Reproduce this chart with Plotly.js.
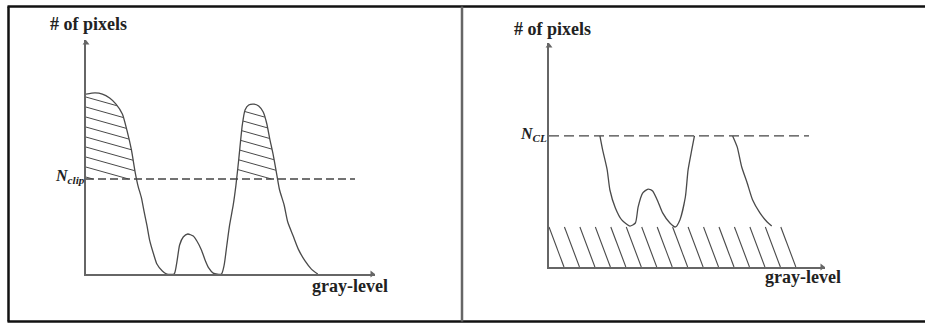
<!DOCTYPE html>
<html><head><meta charset="utf-8">
<script src="https://cdn.plot.ly/plotly-3.0.1.min.js"></script>
<style>html,body{margin:0;padding:0;background:#fff;}#chart{width:925px;height:323px;}</style>
</head><body><div id="chart"></div>
<script>
// ---------- DATA ----------
// Left panel: original histogram (gray-level vs # of pixels, arbitrary units)
const grayOrig  = [0,10,18,26,33,40,45,50,54,57,61,64,67,70,74,78,84,89,97,100,103,107,112,118,122,127,131,135,140,149,152,155,158,162,165,168,172,175,179,185,190,195,199,202,206,210,213,218,222,228,234,241,248,255];
const countOrig = [76.9,77.4,76.9,75.2,72.6,68.4,61.5,53.0,43.6,38.0,32.5,26.5,20.9,14.5,9.0,4.3,1.3,0,0,5.1,12.4,15.8,17.1,16.2,14.1,10.3,6.0,2.6,0.4,0,3.8,12.4,20.9,29.5,38.0,48.7,63.7,70.1,72.2,72.6,71.8,69.2,64.1,58.1,50.9,42.3,35.9,29.5,22.2,16.2,10.3,5.6,2.1,0];
const clipLimit = 40.6;

// Right panel: clipped histogram, visible parts below the clip limit
const grayClipA  = [56,59,64,67,73,80,89,95,98,103,109,114,120,125,133,139,144,150,153,157,160];
const countClipA = [56.0,50.0,41.5,32.9,25.2,20.1,17.5,18.8,25.6,31.6,33.3,32.5,27.8,23.1,18.8,17.1,20.1,29.9,41.5,50.0,56.0];
const grayClipB  = [202,207,212,218,224,232,240,245];
const countClipB = [56.0,51.3,42.7,35.9,28.6,23.1,19.2,17.5];
const clipLimitCL = 56.0;
const redistLevel = 17.1;      // excess redistributed over all bins
const grayMax = 255;

const yLabel = '# of pixels';
const xLabel = 'gray-level';
const clipLabel = '<i>N<sub>clip</sub></i>';
const clLabel = '<i>N<sub>CL</sub></i>';

// ---------- GEOMETRY / STYLE ----------
const W = 925, H = 323;
const PL = {ox:86, oy:274, xTip:375, yTip:40, xMax:318, yMax:100, dashEnd:296};
const PR = {ox:549, oy:267, xTip:825, yTip:43, xMax:303.6, yMax:95.7, dashEnd:286};
const ink = '#4a4a4a', axisCol = '#666', txtCol = '#222';
const serif = 'Liberation Serif, Times New Roman, serif';

function dom(p){ return {x:[p.ox/W, p.xTip/W], y:[1-p.oy/H, 1-p.yTip/H]}; }
const dL = dom(PL), dR = dom(PR);
const xppu = (PL.xTip-PL.ox)/PL.xMax, yppu = (PL.oy-PL.yTip)/PL.yMax;

function interp(xs, ys, x){
  for(let i=0;i<xs.length-1;i++){
    if(x>=xs[i] && x<=xs[i+1]){ const t=(x-xs[i])/(xs[i+1]-xs[i]); return ys[i]+t*(ys[i+1]-ys[i]); }
  }
  return 0;
}

// Left hatch: shallow lines above clip limit inside the histogram
const hatchSlopePx = 0.28, hatchGapPx = 10, hatchAnchor = 45.7;
const m = -hatchSlopePx * xppu / yppu;
const dc = hatchGapPx / yppu;
const hLx = [], hLy = [];
const step = 0.2;
for(let k=-25;k<=25;k++){
  const c = hatchAnchor + k*dc;
  let inSeg = false, lastX = 0;
  for(let x=0; x<=grayMax+1e-9; x+=step){
    const h = c + m*x;
    const ok = h>=clipLimit && h<=interp(grayOrig,countOrig,x);
    if(ok && !inSeg){ hLx.push(x); hLy.push(h); inSeg = true; }
    else if(!ok && inSeg){ hLx.push(lastX); hLy.push(c+m*lastX); hLx.push(null); hLy.push(null); inSeg=false; }
    lastX = x;
  }
  if(inSeg){ hLx.push(lastX); hLy.push(c+m*lastX); hLx.push(null); hLy.push(null); }
}

// Right hatch: steep lines in the redistributed band
const nHatchR = 15, hatchShiftPx = 15;
const shiftR = hatchShiftPx / xppu;
const hRx = [], hRy = [];
for(let k=0;k<=nHatchR;k++){
  const g = k*grayMax/nHatchR;
  hRx.push(g, g+shiftR, null); hRy.push(redistLevel, 0, null);
}

// arrowhead markers at the axis ends (marker centre sits a few px behind the tip)
const headR = 3;
function heads(p, xa, ya){
  return [
    {x:[0], y:[p.yMax - headR/yppu], xaxis:xa, yaxis:ya, mode:'markers', cliponaxis:false, hoverinfo:'skip',
     marker:{symbol:'triangle-up', size:headR*2, color:axisCol}},
    {x:[p.xMax - headR/xppu], y:[0], xaxis:xa, yaxis:ya, mode:'markers', cliponaxis:false, hoverinfo:'skip',
     marker:{symbol:'triangle-right', size:headR*2, color:axisCol}}
  ];
}

const traces = [
  {x:hLx, y:hLy, xaxis:'x', yaxis:'y', mode:'lines', line:{color:ink, width:1}, hoverinfo:'skip'},
  {x:grayOrig, y:countOrig, xaxis:'x', yaxis:'y', mode:'lines', line:{color:ink, width:1.3, shape:'spline', smoothing:0.6}},
  {x:[0, PL.dashEnd], y:[clipLimit, clipLimit], xaxis:'x', yaxis:'y', mode:'lines', line:{color:'#444', width:1.4, dash:'8px,4px'}},
  {x:hRx, y:hRy, xaxis:'x2', yaxis:'y2', mode:'lines', line:{color:ink, width:1.1}, hoverinfo:'skip'},
  {x:grayClipA, y:countClipA, xaxis:'x2', yaxis:'y2', mode:'lines', line:{color:ink, width:1.3, shape:'spline', smoothing:0.6}},
  {x:grayClipB, y:countClipB, xaxis:'x2', yaxis:'y2', mode:'lines', line:{color:ink, width:1.3, shape:'spline', smoothing:0.6}},
  {x:[0, PR.dashEnd], y:[clipLimitCL, clipLimitCL], xaxis:'x2', yaxis:'y2', mode:'lines', line:{color:'#444', width:1.4, dash:'10px,5px'}}
].concat(heads(PL,'x','y'), heads(PR,'x2','y2'));

function ax(domain, range){
  return {domain:domain, range:range, showgrid:false, zeroline:false, showticklabels:false, ticks:'',
          showline:true, linecolor:axisCol, linewidth:1.6, fixedrange:true};
}

function P(px){ return px/W; }
function Q(py){ return 1-py/H; }
const tfont = {family:serif, size:18, color:txtCol, weight:'bold'};
const nfont = {family:serif, size:16, color:txtCol, weight:'bold'};

const annotations = [
  {xref:'paper', yref:'paper', x:P(88.5), y:Q(24.5), text:yLabel, showarrow:false, font:tfont, xanchor:'center', yanchor:'middle'},
  {xref:'paper', yref:'paper', x:P(552), y:Q(28.5), text:yLabel, showarrow:false, font:tfont, xanchor:'center', yanchor:'middle'},
  {xref:'paper', yref:'paper', x:P(349.5), y:Q(285.5), text:xLabel, showarrow:false, font:tfont, xanchor:'center', yanchor:'middle'},
  {xref:'paper', yref:'paper', x:P(802.5), y:Q(276.5), text:xLabel, showarrow:false, font:tfont, xanchor:'center', yanchor:'middle'},
  {xref:'paper', yref:'paper', x:P(87), y:Q(176), text:clipLabel, showarrow:false, font:nfont, xanchor:'right', yanchor:'middle'},
  {xref:'paper', yref:'paper', x:P(549), y:Q(134), text:clLabel, showarrow:false, font:nfont, xanchor:'right', yanchor:'middle'}
];

const shapes = [
  {type:'line', xref:'paper', yref:'paper', x0:P(7.5), x1:1, y0:Q(6.5), y1:Q(6.5), line:{color:'#111', width:2.5}},
  {type:'line', xref:'paper', yref:'paper', x0:P(7.5), x1:1, y0:Q(321.5), y1:Q(321.5), line:{color:'#111', width:2.5}},
  {type:'line', xref:'paper', yref:'paper', x0:P(8.5), x1:P(8.5), y0:Q(6.5), y1:Q(321.5), line:{color:'#111', width:2.5}},
  {type:'line', xref:'paper', yref:'paper', x0:P(462), x1:P(462), y0:Q(6.5), y1:Q(321.5), line:{color:'#666', width:2.5}}
];

const layout = {
  width:W, height:H, margin:{l:0,r:0,t:0,b:0}, showlegend:false,
  paper_bgcolor:'#fff', plot_bgcolor:'rgba(0,0,0,0)',
  xaxis: ax(dL.x, [0, PL.xMax]), yaxis: ax(dL.y, [0, PL.yMax]),
  xaxis2: ax(dR.x, [0, PR.xMax]), yaxis2: ax(dR.y, [0, PR.yMax]),
  annotations: annotations, shapes: shapes
};
layout.yaxis.anchor = 'x'; layout.xaxis.anchor = 'y';
layout.xaxis2.anchor = 'y2'; layout.yaxis2.anchor = 'x2';

Plotly.newPlot('chart', traces, layout, {staticPlot:true, displayModeBar:false});
</script></body></html>
